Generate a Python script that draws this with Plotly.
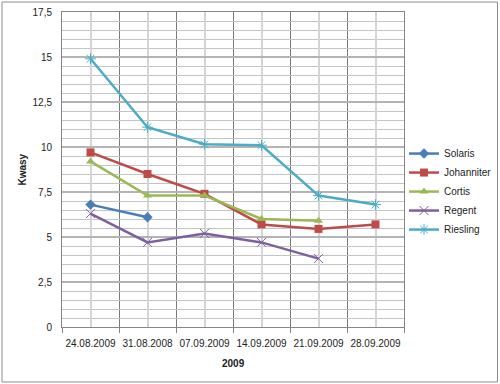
import plotly.graph_objects as go

dates = ["24.08.2009", "31.08.2008", "07.09.2009", "14.09.2009", "21.09.2009", "28.09.2009"]
solaris = [6.8, 6.1, None, None, None, None]
johanniter = [9.7, 8.5, 7.4, 5.7, 5.45, 5.7]
cortis = [9.2, 7.3, 7.3, 6.0, 5.9, None]
regent = [6.3, 4.7, 5.2, 4.7, 3.8, None]
riesling = [14.9, 11.1, 10.15, 10.1, 7.3, 6.8]
y_ticks = [0, 2.5, 5, 7.5, 10, 12.5, 15, 17.5]
y_labels = ["0", "2,5", "5", "7,5", "10", "12,5", "15", "17,5"]

series = [
    ("Solaris", solaris, "#4A7EBB", "diamond"),
    ("Johanniter", johanniter, "#BE4B48", "square"),
    ("Cortis", cortis, "#98B954", "triangle-up"),
    ("Regent", regent, "#7D60A0", "x-thin-open"),
    ("Riesling", riesling, "#4BACC6", "asterisk-open"),
]

xpos = list(range(len(dates)))
fig = go.Figure()
for name, vals, col, sym in series:
    open_sym = sym.endswith("open")
    fig.add_trace(go.Scatter(
        x=xpos, y=vals, name=name, mode="lines+markers",
        line=dict(color=col, width=2.5),
        marker=dict(symbol=sym, size=8 if not open_sym else 9, color=col,
                    line=dict(color=col, width=1 if open_sym else 0)),
        connectgaps=False,
    ))

L, R, T, B = 62, 96, 12, 57
fig.update_layout(
    width=500, height=384,
    margin=dict(l=L, r=R, t=T, b=B, autoexpand=False),
    paper_bgcolor="white", plot_bgcolor="white",
    font=dict(family="Liberation Sans, Arial, sans-serif", size=10, color="#222"),
    showlegend=True,
    legend=dict(x=1.0, xanchor="left", y=0.43, yanchor="middle",
                font=dict(size=10, color="#222"), bgcolor="rgba(0,0,0,0)",
                tracegroupgap=0, itemwidth=30),
    xaxis=dict(
        range=[-0.5, 5.5], tickmode="array", tickvals=xpos, ticktext=dates,
        showgrid=True, gridcolor="#d4d4d4", gridwidth=1.5,
        ticks="", showline=True, linecolor="#868686", linewidth=1, mirror=True,
        zeroline=False, ticklabelstandoff=7,
        minor=dict(tick0=-0.5, dtick=1, showgrid=True, gridcolor="#7a7a7a",
                   gridwidth=1, ticks="outside", ticklen=5, tickcolor="#868686"),
        tickfont=dict(size=10),
    ),
    yaxis=dict(
        range=[0, 17.5], tickmode="array", tickvals=y_ticks, ticktext=y_labels,
        showgrid=True, gridcolor="#b4b4b4", gridwidth=2,
        ticks="", showline=True, linecolor="#868686", linewidth=1, mirror=True,
        zeroline=False, ticklabelstandoff=7,
        minor=dict(tick0=0, dtick=0.5, showgrid=True, gridcolor="#c4c4c4",
                   gridwidth=1, ticks=""),
        tickfont=dict(size=10),
    ),
    annotations=[
        dict(text="<b>Kwasy</b>", textangle=-90, xref="paper", yref="paper",
             x=0, y=0.5, xanchor="center", yanchor="middle", xshift=-40,
             showarrow=False, font=dict(size=10, color="#222")),
        dict(text="<b>2009</b>", xref="paper", yref="paper",
             x=0.5, y=0, xanchor="center", yanchor="middle", yshift=-36,
             showarrow=False, font=dict(size=10, color="#222")),
    ],
    shapes=[
        dict(type="rect", xref="paper", yref="paper",
             x0=(2 - L) / 342, x1=(497.5 - L) / 342,
             y0=(327 - 382) / 315, y1=(327 - 2) / 315,
             line=dict(color="#8c8c8c", width=1), fillcolor="rgba(0,0,0,0)"),
    ],
)

fig.write_html("out.html")
